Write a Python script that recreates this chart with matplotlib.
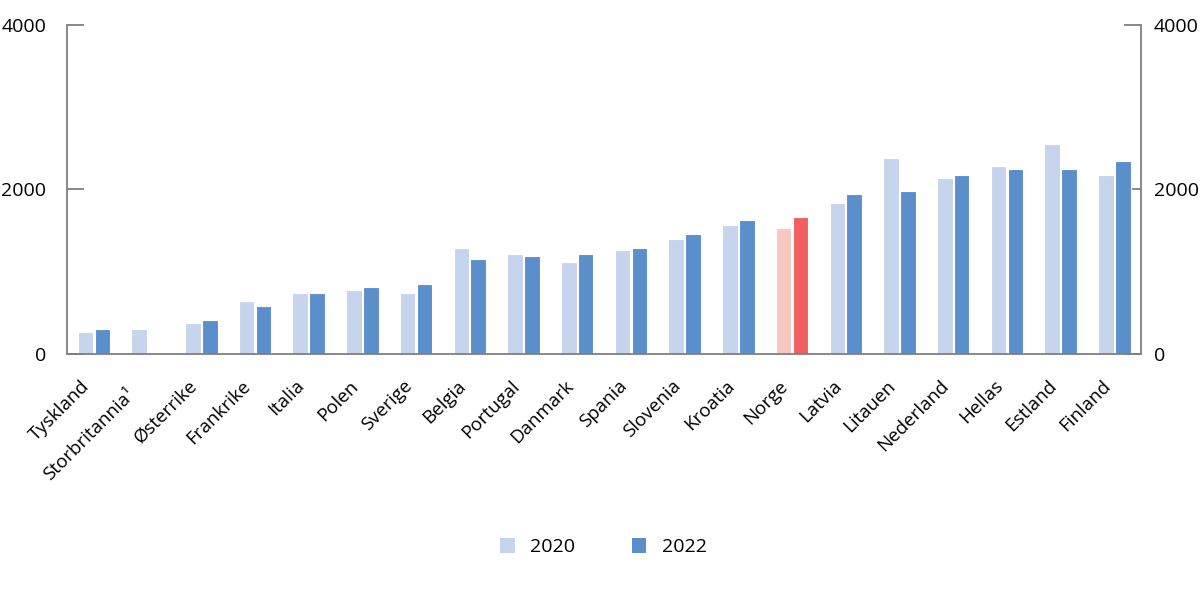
import matplotlib
matplotlib.use("Agg")
import matplotlib.pyplot as plt
import matplotlib.transforms as mtransforms
import numpy as np
from matplotlib.patches import Patch

plt.rcParams['font.family'] = ['Open Sans', 'DejaVu Sans']

categories = ["Tyskland", "Storbritannia¹", "Østerrike", "Frankrike", "Italia", "Polen",
              "Sverige", "Belgia", "Portugal", "Danmark", "Spania", "Slovenia", "Kroatia",
              "Norge", "Latvia", "Litauen", "Nederland", "Hellas", "Estland", "Finland"]
v2020 = [270, 307, 373, 643, 746, 779, 746, 1291, 1221, 1119, 1258, 1393, 1566,
         1529, 1836, 2381, 2143, 2279, 2553, 2180]
v2022 = [307, np.nan, 410, 578, 746, 816, 848, 1156, 1189, 1221, 1291, 1463, 1631,
         1664, 1939, 1975, 2180, 2246, 2246, 2348]
series_labels = ["2020", "2022"]
highlight = "Norge"

c20 = "#c6d4ee"
c22 = "#5a8fcc"
c20h = "#f9c8c0"
c22h = "#f06060"

fig = plt.figure(figsize=(12, 5.91), dpi=100)
ax = fig.add_axes([0.0558, 0.401, 0.8952, 0.557])

x = np.arange(len(categories))
w = 0.29
off = 0.158
cols20 = [c20h if c == highlight else c20 for c in categories]
cols22 = [c22h if c == highlight else c22 for c in categories]
ax.bar(x - off, v2020, width=w, color=cols20, edgecolor="white", linewidth=0.8, zorder=2)
ax.bar(x + off, v2022, width=w, color=cols22, edgecolor="white", linewidth=0.8, zorder=2)

ax.set_xlim(-0.5, len(categories) - 0.5)
ax.set_ylim(0, 4000)
ax.set_yticks([0, 2000, 4000])

gray = "#7f7f7f"
for s in ["left", "right", "bottom"]:
    ax.spines[s].set_color(gray)
    ax.spines[s].set_linewidth(1.3)
ax.spines["top"].set_visible(False)
ax.spines["bottom"].set_zorder(3)

ax.tick_params(axis="y", which="both", direction="in", length=12, width=1.3, color=gray,
               left=True, right=True, labelleft=True, labelright=True, labelsize=14,
               labelcolor="black")
ax.yaxis.set_tick_params(which="major", pad=15)
for t in ax.yaxis.get_major_ticks():
    t.label2.set_horizontalalignment("left")
    t.label2.set_transform(t.label2.get_transform() +
                           mtransforms.ScaledTranslation(-6 / 72, 0, fig.dpi_scale_trans))

ax.set_xticks(x)
ax.set_xticklabels(categories, rotation=45, ha="right", va="center",
                   rotation_mode="anchor", fontsize=13.5)
ax.tick_params(axis="x", length=0, pad=20)
for lab in ax.get_xticklabels():
    if lab.get_text().startswith("Storbritannia"):
        dx, dy = -11, -7
    else:
        dx, dy = -5, -1
    lab.set_transform(lab.get_transform() +
                      mtransforms.ScaledTranslation(dx / 72, dy / 72, fig.dpi_scale_trans))

handles = [Patch(facecolor=c20, edgecolor="none"), Patch(facecolor=c22, edgecolor="none")]
fig.legend(handles, series_labels, loc="center", bbox_to_anchor=(0.503, 0.074), ncol=2,
           frameon=False, fontsize=14, handlelength=0.75, handleheight=0.75,
           columnspacing=2.9, handletextpad=0.8)

fig.savefig("out.png", dpi=100)
